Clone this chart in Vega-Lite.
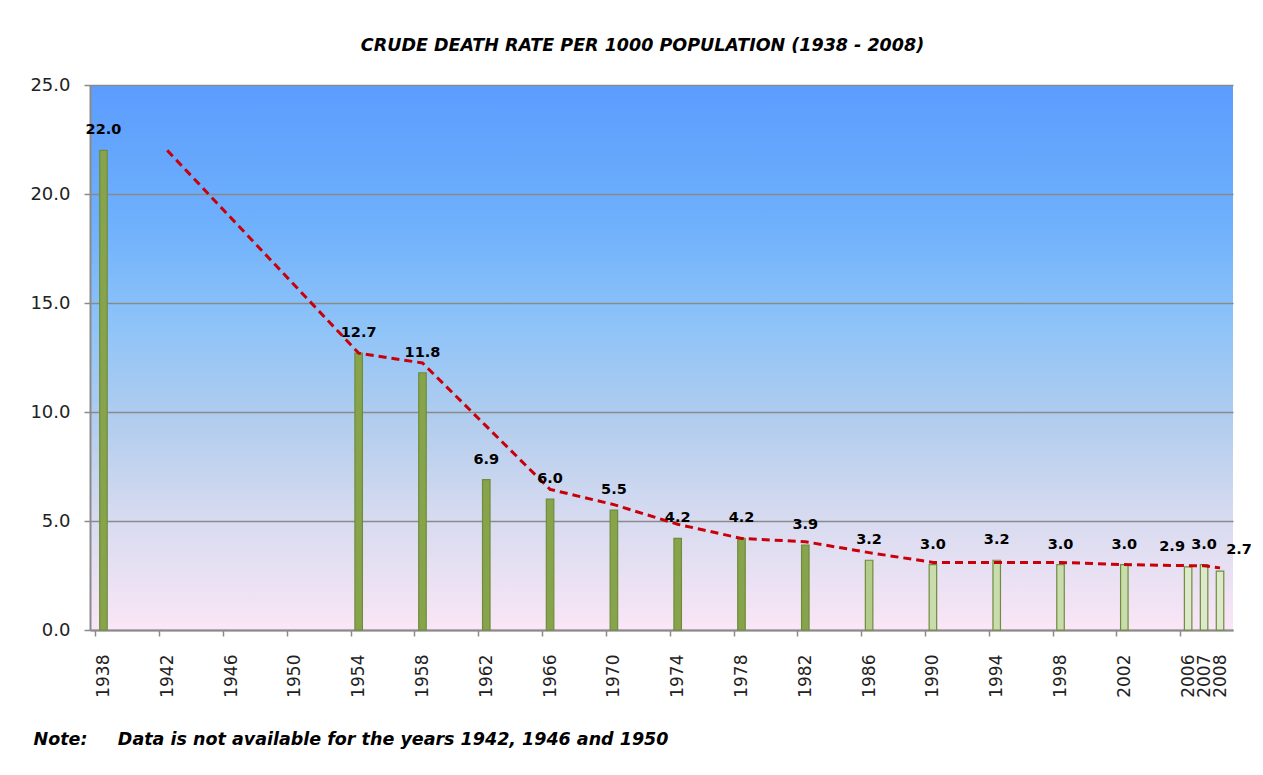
{
  "$schema": "https://vega.github.io/schema/vega-lite/v6.json",
  "width": 1143,
  "height": 545,
  "autosize": {"type": "none"},
  "padding": {"left": 90, "top": 85, "right": 30, "bottom": 145},
  "background": "white",
  "title": {
    "text": "CRUDE DEATH RATE PER 1000 POPULATION (1938 - 2008)",
    "font": "DejaVu Sans",
    "fontSize": 17.5,
    "fontWeight": "bold",
    "fontStyle": "italic",
    "color": "#000000",
    "anchor": "middle",
    "offset": 22,
    "dx": -19
  },
  "data": {
    "values": [
      {"year": 1938, "rate": 22.0, "trend": null},
      {"year": 1942, "rate": null, "trend": 22.0},
      {"year": 1954, "rate": 12.7, "trend": 12.7},
      {"year": 1958, "rate": 11.8, "trend": 12.25},
      {"year": 1962, "rate": 6.9, "trend": 9.35},
      {"year": 1966, "rate": 6.0, "trend": 6.45},
      {"year": 1970, "rate": 5.5, "trend": 5.75},
      {"year": 1974, "rate": 4.2, "trend": 4.85},
      {"year": 1978, "rate": 4.2, "trend": 4.2},
      {"year": 1982, "rate": 3.9, "trend": 4.05},
      {"year": 1986, "rate": 3.2, "trend": 3.55},
      {"year": 1990, "rate": 3.0, "trend": 3.1},
      {"year": 1994, "rate": 3.2, "trend": 3.1},
      {"year": 1998, "rate": 3.0, "trend": 3.1},
      {"year": 2002, "rate": 3.0, "trend": 3.0},
      {"year": 2006, "rate": 2.9, "trend": 2.95},
      {"year": 2007, "rate": 3.0, "trend": 2.95},
      {"year": 2008, "rate": 2.7, "trend": 2.85}
    ]
  },
  "resolve": {"axis": {"x": "independent"}},
  "layer": [
    {
      "transform": [{"filter": "datum.rate != null"}],
      "mark": {"type": "bar", "width": 7.5, "stroke": "#6f8c3c", "strokeWidth": 1.2},
      "encoding": {
        "x": {
          "field": "year",
          "type": "quantitative",
          "scale": {"domain": [1937.47, 2008.5], "nice": false, "zero": false},
          "axis": {
            "values": [1938, 1942, 1946, 1950, 1954, 1958, 1962, 1966, 1970, 1974, 1978, 1982, 1986, 1990, 1994, 1998, 2002, 2006, 2007, 2008],
            "format": "d",
            "labelAngle": -90,
            "labelOverlap": false,
            "labelFont": "DejaVu Sans",
            "labelFontSize": 17,
            "labelColor": "#222222",
            "labelPadding": 24,
            "ticks": false,
            "tickSize": 0,
            "grid": false,
            "domain": true,
            "domainColor": "#8a8a8a",
            "domainWidth": 2,
            "title": "Note:\u00a0\u00a0\u00a0\u00a0\u00a0Data is not available for the years 1942, 1946 and 1950",
            "titleFont": "DejaVu Sans",
            "titleFontSize": 17.5,
            "titleFontWeight": "bold",
            "titleFontStyle": "italic",
            "titleColor": "#000000",
            "titleAnchor": "start",
            "titleAlign": "left",
            "titleBaseline": "alphabetic",
            "titleX": -57,
            "titleY": 114
          }
        },
        "y": {
          "field": "rate",
          "type": "quantitative",
          "scale": {"domain": [0, 25], "nice": false},
          "axis": {
            "values": [0, 5, 10, 15, 20, 25],
            "format": ".1f",
            "labelFont": "DejaVu Sans",
            "labelFontSize": 18,
            "labelColor": "#222222",
            "labelPadding": 14,
            "tickSize": 6,
            "tickColor": "#8a8a8a",
            "tickWidth": 1.5,
            "grid": true,
            "gridColor": "#8a8a8a",
            "gridWidth": 1.5,
            "domainColor": "#8a8a8a",
            "domainWidth": 2,
            "title": null
          }
        },
        "color": {
          "field": "year",
          "type": "quantitative",
          "scale": {
            "type": "threshold",
            "domain": [1984, 1988, 2004],
            "range": ["#87a34b", "#b3cc8c", "#c9dcae", "#dde8cd"]
          },
          "legend": null
        }
      }
    },
    {
      "transform": [{"filter": "datum.trend != null"}],
      "mark": {"type": "line", "color": "#c8000a", "strokeWidth": 3, "strokeDash": [8, 5]},
      "encoding": {
        "x": {
          "field": "year",
          "type": "quantitative",
          "axis": {
            "values": [1937.5, 1941.5, 1945.5, 1949.5, 1953.5, 1957.5, 1961.5, 1965.5, 1969.5, 1973.5, 1977.5, 1981.5, 1985.5, 1989.5, 1993.5, 1997.5, 2001.5, 2005.5],
            "labels": false,
            "ticks": true,
            "tickSize": 6,
            "tickColor": "#8a8a8a",
            "tickWidth": 1.5,
            "grid": false,
            "domain": false,
            "title": null,
            "orient": "bottom"
          }
        },
        "y": {"field": "trend", "type": "quantitative"}
      }
    },
    {
      "transform": [{"filter": "datum.rate != null && datum.year != 2006 && datum.year != 2008"}],
      "mark": {"type": "text", "font": "DejaVu Sans", "fontSize": 14.5, "fontWeight": "bold", "color": "#000000", "align": "center", "baseline": "alphabetic", "dy": -16},
      "encoding": {
        "x": {"field": "year", "type": "quantitative", "axis": null},
        "y": {"field": "rate", "type": "quantitative"},
        "text": {"field": "rate", "type": "quantitative", "format": ".1f"}
      }
    },
    {
      "transform": [{"filter": "datum.year == 2006"}],
      "mark": {"type": "text", "font": "DejaVu Sans", "fontSize": 14.5, "fontWeight": "bold", "color": "#000000", "align": "center", "baseline": "alphabetic", "dy": -16, "dx": -16},
      "encoding": {
        "x": {"field": "year", "type": "quantitative", "axis": null},
        "y": {"field": "rate", "type": "quantitative"},
        "text": {"field": "rate", "type": "quantitative", "format": ".1f"}
      }
    },
    {
      "transform": [{"filter": "datum.year == 2008"}],
      "mark": {"type": "text", "font": "DejaVu Sans", "fontSize": 14.5, "fontWeight": "bold", "color": "#000000", "align": "center", "baseline": "alphabetic", "dy": -17, "dx": 19},
      "encoding": {
        "x": {"field": "year", "type": "quantitative", "axis": null},
        "y": {"field": "rate", "type": "quantitative"},
        "text": {"field": "rate", "type": "quantitative", "format": ".1f"}
      }
    }
  ],
  "config": {
    "view": {
      "stroke": null,
      "fill": {
        "gradient": "linear",
        "x1": 0, "y1": 0, "x2": 0, "y2": 1,
        "stops": [
          {"offset": 0, "color": "#5c9cfe"},
          {"offset": 0.25, "color": "#6eb0fc"},
          {"offset": 0.45, "color": "#90c4f8"},
          {"offset": 0.62, "color": "#b2cdee"},
          {"offset": 0.8, "color": "#d8dbf0"},
          {"offset": 1, "color": "#fae6f6"}
        ]
      }
    }
  }
}
